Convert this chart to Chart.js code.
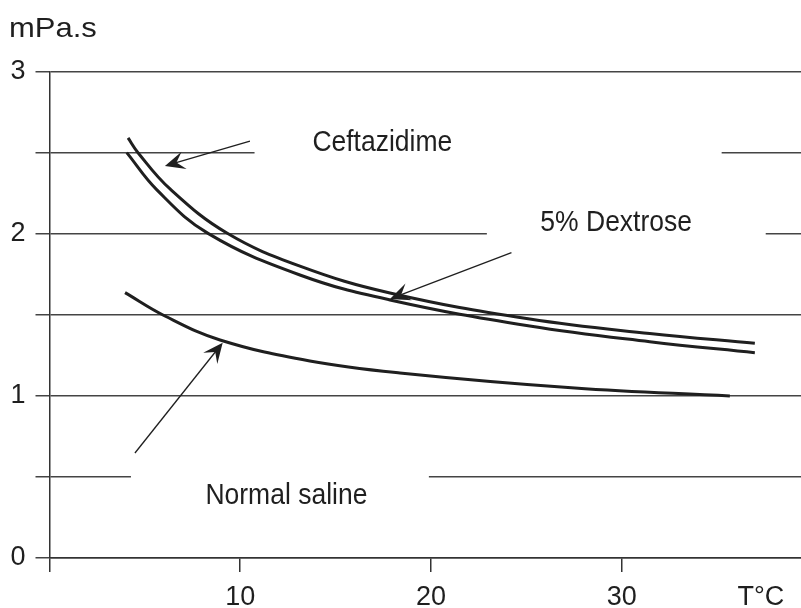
<!DOCTYPE html>
<html>
<head>
<meta charset="utf-8">
<script src="https://cdn.jsdelivr.net/npm/chart.js@4.4.1/dist/chart.umd.min.js"></script>
<style>
    body { margin: 0; background: #fff; }
    #wrap { width: 801px; height: 608px; }
</style>
</head>
<body>
<div id="wrap"><canvas id="viscChart" width="801" height="608"></canvas></div>
<script>
// viscosity (mPa.s) against temperature (T°C)
const cefTemp = [4.12, 4.64, 6.32, 9.30, 13.13, 17.85, 25.18, 31.47, 36.98]
const cefVisc = [2.593, 2.502, 2.278, 2.006, 1.802, 1.636, 1.475, 1.386, 1.325]

const dexTemp = [4.05, 5.63, 8.31, 13.13, 17.85, 25.18, 31.47, 36.98]
const dexVisc = [2.502, 2.272, 2.004, 1.747, 1.593, 1.432, 1.335, 1.267]

const salTemp = [3.96, 6.05, 8.94, 13.65, 18.37, 27.54, 35.67]
const salVisc = [1.638, 1.494, 1.346, 1.216, 1.142, 1.049, 1.000]

const xTicks = [0, 10, 20, 30, 37.3]
const xTickLabels = ['', '10', '20', '30', 'T°C']
const yTickLabels = { 0: '0', 1: '1', 2: '2', 3: '3' }

// curve names and where they sit (data units)
const labelText = ['Ceftazidime', '5% Dextrose', 'Normal saline']
const labelX = [17.45, 29.71, 12.42]
const labelY = [2.56, 2.068, 0.383]

// arrows: from [x, y] to [x, y]
const arrowFrom = [[10.51, 2.574], [24.22, 1.885], [4.48, 0.648]]
const arrowTo = [[6.05, 2.42], [17.85, 1.599], [9.08, 1.329]]

// gaps left in grid lines round the names
const gapY = [2.5, 2.0, 0.5]
const gapFrom = [10.75, 22.93, 4.27]
const gapTo = [35.24, 37.55, 19.89]

const FONT = '"Liberation Sans", Arial, sans-serif'
const INK = '#1f1f1f'

const toPoints = (xs, ys) => xs.map((x, i) => ({ x: x, y: ys[i] }))

// text a little taller than wide, like the scan
function tallText(ctx, text, px, py, stretch) {
    ctx.save()
    ctx.translate(px, py)
    ctx.scale(1, stretch)
    ctx.fillText(text, 0, 0)
    ctx.restore()
}

const annotations = {
    id: 'annotations',
    beforeDatasetsDraw(chart) {
        const { ctx, scales: { x, y } } = chart
        ctx.save()
        ctx.fillStyle = '#fff'
        gapY.forEach((v, i) => {
            const x1 = x.getPixelForValue(gapFrom[i])
            const x2 = x.getPixelForValue(gapTo[i])
            ctx.fillRect(x1, y.getPixelForValue(v) - 2, x2 - x1, 4)
        })
        ctx.restore()
    },
    afterDatasetsDraw(chart) {
        const { ctx, scales: { x, y } } = chart
        ctx.save()
        ctx.fillStyle = INK
        ctx.font = '26.5px ' + FONT
        ctx.textAlign = 'center'
        ctx.textBaseline = 'middle'
        labelText.forEach((t, i) => {
            tallText(ctx, t, x.getPixelForValue(labelX[i]), y.getPixelForValue(labelY[i]), 1.08)
        })

        // y axis unit
        ctx.textAlign = 'left'
        ctx.font = '31px ' + FONT
        tallText(ctx, 'mPa.s', 9, 29, 0.92)

        // arrows
        ctx.strokeStyle = INK
        ctx.lineWidth = 1.3
        arrowFrom.forEach((f, i) => {
            const x0 = x.getPixelForValue(f[0]), y0 = y.getPixelForValue(f[1])
            const x1 = x.getPixelForValue(arrowTo[i][0]), y1 = y.getPixelForValue(arrowTo[i][1])
            const ang = Math.atan2(y1 - y0, x1 - x0)
            const len = 20, half = 9
            ctx.beginPath()
            ctx.moveTo(x0, y0)
            ctx.lineTo(x1 - Math.cos(ang) * 10, y1 - Math.sin(ang) * 10)
            ctx.stroke()
            const bx = x1 - Math.cos(ang) * len, by = y1 - Math.sin(ang) * len
            const nx = -Math.sin(ang), ny = Math.cos(ang)
            ctx.beginPath()
            ctx.moveTo(x1, y1)
            ctx.lineTo(bx + nx * half, by + ny * half)
            ctx.lineTo(x1 - Math.cos(ang) * len * 0.6, y1 - Math.sin(ang) * len * 0.6)
            ctx.lineTo(bx - nx * half, by - ny * half)
            ctx.closePath()
            ctx.fill()
        })
        ctx.restore()
    }
}

const lineStyle = {
    borderColor: INK,
    borderWidth: 3,
    pointRadius: 0,
    fill: false,
    tension: 0.4
}

new Chart(document.getElementById('viscChart').getContext('2d'), {
    type: 'line',
    data: {
        datasets: [
            { label: 'Ceftazidime', data: toPoints(cefTemp, cefVisc), ...lineStyle },
            { label: '5% Dextrose', data: toPoints(dexTemp, dexVisc), ...lineStyle },
            { label: 'Normal saline', data: toPoints(salTemp, salVisc), ...lineStyle }
        ]
    },
    options: {
        responsive: false,
        animation: false,
        layout: { padding: { top: 72, right: 0, left: 0, bottom: 0 } },
        plugins: { legend: { display: false }, tooltip: { enabled: false } },
        scales: {
            x: {
                type: 'linear',
                min: 0,
                max: 39.4,
                afterBuildTicks: axis => { axis.ticks = xTicks.map(v => ({ value: v })) },
                afterFit: axis => { axis.height = 50 },
                border: { color: '#333', width: 1.5 },
                grid: {
                    drawOnChartArea: false,
                    tickLength: 14,
                    lineWidth: 1.5,
                    tickColor: c => (c.tick && c.tick.value === 37.3) ? 'rgba(0,0,0,0)' : '#333'
                },
                ticks: {
                    autoSkip: false,
                    maxRotation: 0,
                    padding: 9,
                    color: INK,
                    font: { size: 27, family: FONT },
                    callback: (v, i) => xTickLabels[i]
                }
            },
            y: {
                min: 0,
                max: 3,
                afterFit: axis => { axis.width = 49.5 },
                border: { color: '#333', width: 1.5 },
                grid: {
                    color: '#444',
                    lineWidth: 1.5,
                    tickLength: 14
                },
                ticks: {
                    stepSize: 0.5,
                    padding: 10,
                    color: INK,
                    font: { size: 27, family: FONT },
                    callback: v => yTickLabels[v] !== undefined ? yTickLabels[v] : ''
                }
            }
        }
    },
    plugins: [annotations]
})
</script>
</body>
</html>
